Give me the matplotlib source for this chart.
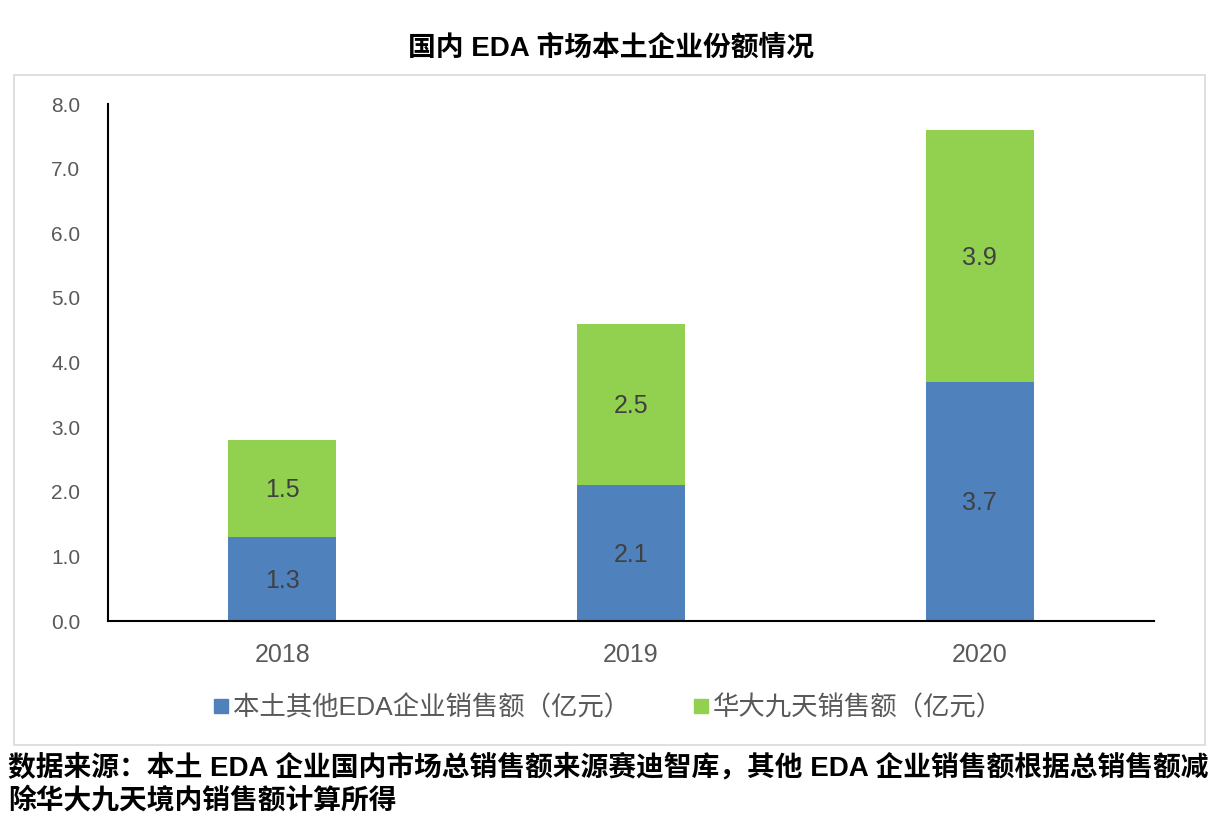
import matplotlib.pyplot as plt
from matplotlib.lines import Line2D
from matplotlib.patches import Rectangle

plt.rcParams['font.family'] = ['Liberation Sans', 'Noto Sans CJK SC', 'DejaVu Sans']

# data
years = ['2018', '2019', '2020']
others = [1.3, 2.1, 3.7]      # 本土其他EDA企业销售额
huada = [1.5, 2.5, 3.9]       # 华大九天销售额
series_names = ['本土其他EDA企业销售额（亿元）', '华大九天销售额（亿元）']
yticks = [0, 1, 2, 3, 4, 5, 6, 7, 8]

blue = '#4F81BD'
green = '#92D050'

fig = plt.figure(figsize=(12.23, 8.38), dpi=100)
ax = fig.add_axes([108 / 1223, 1 - 621 / 838, (1154 - 108) / 1223, (621 - 104) / 838])

# light grey chart-area frame
fig.patches.append(Rectangle((14 / 1223, 1 - 745 / 838), (1205 - 14) / 1223, (745 - 75) / 838,
                             transform=fig.transFigure, fill=False,
                             edgecolor='#D9D9D9', linewidth=1.2))

x = range(len(years))
b1 = ax.bar(x, others, width=0.31, color=blue)
b2 = ax.bar(x, huada, width=0.31, bottom=others, color=green)

for i in x:
    ax.text(i, others[i] / 2 - 0.03, f'{others[i]:.1f}', ha='center', va='center',
            fontsize=18, color='#404040')
    ax.text(i, others[i] + huada[i] / 2 - 0.03, f'{huada[i]:.1f}', ha='center', va='center',
            fontsize=18, color='#404040')

ax.set_xlim(-0.5, 2.5)
ax.set_ylim(0, 8)
ax.set_yticks(yticks)
ax.set_yticklabels([f'{v:.1f}' for v in yticks], fontsize=15, color='#595959')
ax.set_xticks(list(x))
ax.set_xticklabels(years, fontsize=18, color='#595959')
ax.tick_params(axis='both', length=0)
ax.tick_params(axis='y', pad=20)
ax.tick_params(axis='x', pad=16)
for s in ['top', 'right']:
    ax.spines[s].set_visible(False)
ax.spines['left'].set_color('black')
ax.spines['bottom'].set_color('black')
ax.spines['left'].set_linewidth(1.5)
ax.spines['bottom'].set_linewidth(1.5)

fig.text(0.5, 1 - 48 / 838, '国内 EDA 市场本土企业份额情况', ha='center', va='center',
         fontsize=20, fontweight='bold')

handles = [Line2D([], [], marker='s', linestyle='none', markersize=10, color=blue),
           Line2D([], [], marker='s', linestyle='none', markersize=10, color=green)]
leg = fig.legend(handles, series_names, loc='center', bbox_to_anchor=(0.497, 1 - 708 / 838),
                 ncol=2, frameon=False, fontsize=19, handlelength=0.6,
                 handletextpad=0.15, columnspacing=2.4)
for t in leg.get_texts():
    t.set_color('#595959')

fig.text(8 / 1223, 1 - 768 / 838,
         '数据来源：本土 EDA 企业国内市场总销售额来源赛迪智库，其他 EDA 企业销售额根据总销售额减',
         ha='left', va='center', fontsize=20, fontweight='bold')
fig.text(8 / 1223, 1 - 801 / 838, '除华大九天境内销售额计算所得',
         ha='left', va='center', fontsize=20, fontweight='bold')

fig.savefig('out.png', dpi=100)
